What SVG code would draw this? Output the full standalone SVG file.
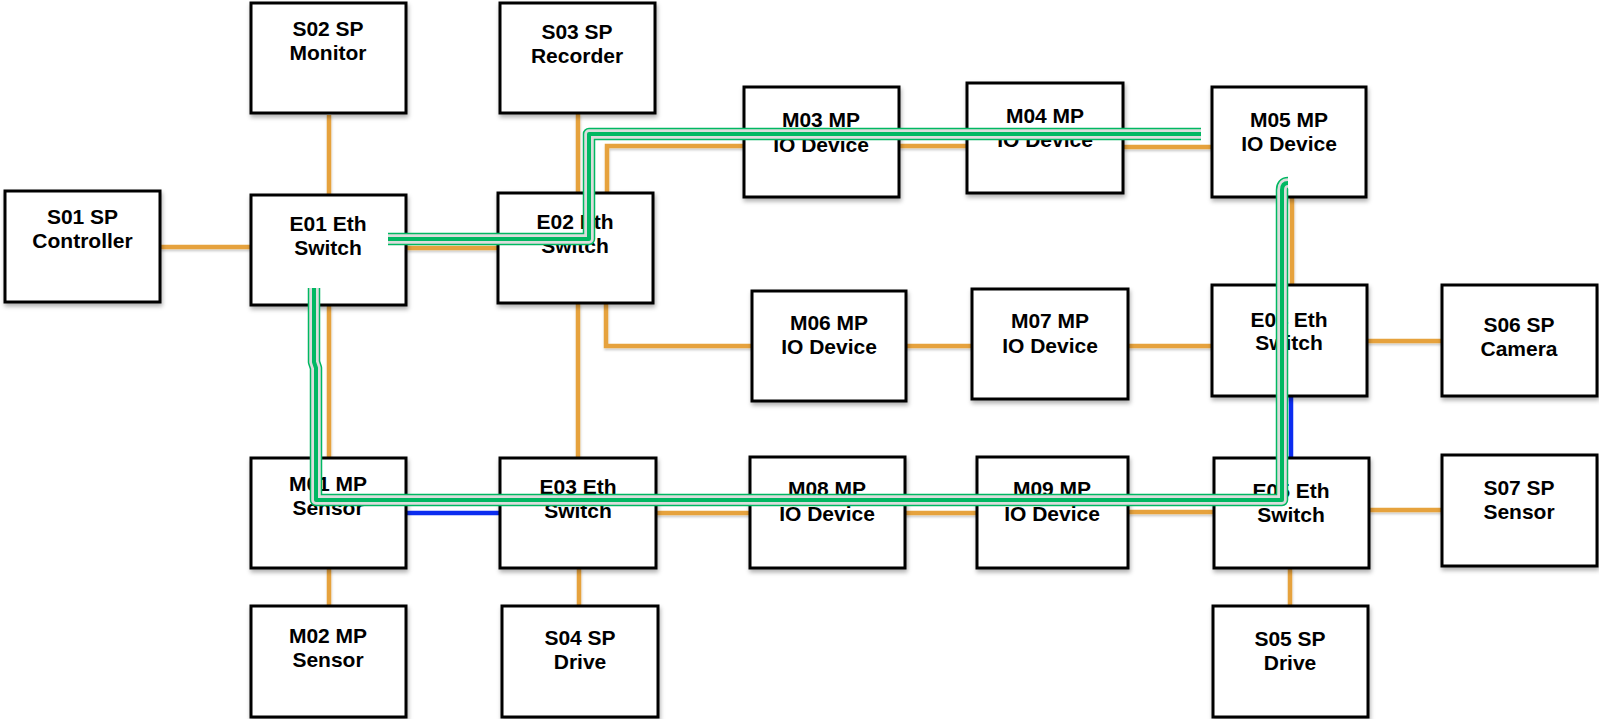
<svg xmlns="http://www.w3.org/2000/svg" xmlns:xlink="http://www.w3.org/1999/xlink" width="1599" height="719" viewBox="0 0 1599 719">
<style>
.box{fill:#fff;stroke:#000;stroke-width:3;filter:url(#sh)}
.lbl{font-family:"Liberation Sans",Arial,Helvetica,sans-serif;font-weight:bold;font-size:21px;fill:#000;text-anchor:middle}
.or{fill:none;stroke:#e6a23c;stroke-width:4.5}
.bl{fill:none;stroke:#0b2cf0;stroke-width:4.5}
.g1{fill:none;stroke:#00b862;stroke-width:12.5;stroke-linejoin:round}
.g2{fill:none;stroke:#dcdcdc;stroke-width:9.5;stroke-linejoin:round}
.g3{fill:none;stroke:#00b862;stroke-width:4;stroke-linejoin:round}
</style>
<defs>
<filter id="sh" x="-10%" y="-10%" width="125%" height="130%">
<feDropShadow dx="1" dy="3" stdDeviation="2" flood-color="#000" flood-opacity="0.3"/>
</filter>
<filter id="lsh" x="-10%" y="-10%" width="120%" height="120%">
<feDropShadow dx="0.5" dy="2" stdDeviation="1.2" flood-color="#000" flood-opacity="0.2"/>
</filter>
<path id="gpA" d="M 388 239 H 589 V 134 H 1201"/>
<path id="gpB" d="M 1288 183 Q 1282 183 1282 190 V 500 H 316 V 368 L 314 362 V 288"/>
</defs>
<rect width="1599" height="719" fill="#fff"/>

<g id="connectors">
<g filter="url(#lsh)">
<path class="or" d="M 160 247 H 251"/>
<path class="or" d="M 329 115 V 195"/>
<path class="or" d="M 406 248 H 498"/>
<path class="or" d="M 578 114 V 193"/>
<path class="or" d="M 607 193 V 146 H 744"/>
<path class="or" d="M 899 146 H 967"/>
<path class="or" d="M 1123 147 H 1212"/>
<path class="or" d="M 1292 197 V 285"/>
<path class="or" d="M 606 303 V 346 H 752"/>
<path class="or" d="M 906 346 H 972"/>
<path class="or" d="M 1128 346 H 1212"/>
<path class="or" d="M 1367 341 H 1442"/>
<path class="or" d="M 578 303 V 458"/>
<path class="or" d="M 329 305 V 458"/>
<path class="or" d="M 656 513 H 750"/>
<path class="or" d="M 905 513 H 977"/>
<path class="or" d="M 1128 512 H 1214"/>
<path class="or" d="M 1369 510 H 1442"/>
<path class="or" d="M 1290 568 V 606"/>
<path class="or" d="M 579 568 V 606"/>
<path class="or" d="M 329 568 V 606"/>
</g>
<path class="bl" d="M 406 513 H 500"/>
<path class="bl" d="M 1291 396 V 458"/>
</g>

<g id="S01"><rect class="box" x="5" y="191" width="155" height="111"/><text class="lbl" x="82.5" y="224">S01 SP</text><text class="lbl" x="82.5" y="248">Controller</text></g>
<g id="S02"><rect class="box" x="251" y="3" width="155" height="110"/><text class="lbl" x="328" y="36">S02 SP</text><text class="lbl" x="328" y="60">Monitor</text></g>
<g id="E01"><rect class="box" x="251" y="195" width="155" height="110"/><text class="lbl" x="328" y="231">E01 Eth</text><text class="lbl" x="328" y="255">Switch</text></g>
<g id="S03"><rect class="box" x="500" y="3" width="155" height="110"/><text class="lbl" x="577" y="39">S03 SP</text><text class="lbl" x="577" y="63">Recorder</text></g>
<g id="E02"><rect class="box" x="498" y="193" width="155" height="110"/><text class="lbl" x="575" y="229">E02 Eth</text><text class="lbl" x="575" y="253">Switch</text></g>
<g id="M03"><rect class="box" x="744" y="87" width="155" height="110"/><text class="lbl" x="821" y="127">M03 MP</text><text class="lbl" x="821" y="152">IO Device</text></g>
<g id="M04"><rect class="box" x="967" y="83" width="156" height="110"/><text class="lbl" x="1045" y="123">M04 MP</text><text class="lbl" x="1045" y="147">IO Device</text></g>
<g id="M05"><rect class="box" x="1212" y="87" width="154" height="110"/><text class="lbl" x="1289" y="127">M05 MP</text><text class="lbl" x="1289" y="151">IO Device</text></g>
<g id="E04"><rect class="box" x="1212" y="285" width="155" height="111"/><text class="lbl" x="1289" y="327">E04 Eth</text><text class="lbl" x="1289" y="350">Switch</text></g>
<g id="S06"><rect class="box" x="1442" y="285" width="155" height="111"/><text class="lbl" x="1519" y="332">S06 SP</text><text class="lbl" x="1519" y="356">Camera</text></g>
<g id="M06"><rect class="box" x="752" y="291" width="154" height="110"/><text class="lbl" x="829" y="330">M06 MP</text><text class="lbl" x="829" y="354">IO Device</text></g>
<g id="M07"><rect class="box" x="972" y="289" width="156" height="110"/><text class="lbl" x="1050" y="328">M07 MP</text><text class="lbl" x="1050" y="353">IO Device</text></g>
<g id="M01"><rect class="box" x="251" y="458" width="155" height="110"/><text class="lbl" x="328" y="491">M01 MP</text><text class="lbl" x="328" y="515">Sensor</text></g>
<g id="E03"><rect class="box" x="500" y="458" width="156" height="110"/><text class="lbl" x="578" y="494">E03 Eth</text><text class="lbl" x="578" y="518">Switch</text></g>
<g id="M08"><rect class="box" x="750" y="457" width="155" height="111"/><text class="lbl" x="827" y="496">M08 MP</text><text class="lbl" x="827" y="521">IO Device</text></g>
<g id="M09"><rect class="box" x="977" y="457" width="151" height="111"/><text class="lbl" x="1052" y="496">M09 MP</text><text class="lbl" x="1052" y="521">IO Device</text></g>
<g id="E05"><rect class="box" x="1214" y="458" width="155" height="110"/><text class="lbl" x="1291" y="498">E05 Eth</text><text class="lbl" x="1291" y="522">Switch</text></g>
<g id="S07"><rect class="box" x="1442" y="455" width="155" height="111"/><text class="lbl" x="1519" y="495">S07 SP</text><text class="lbl" x="1519" y="519">Sensor</text></g>
<g id="M02"><rect class="box" x="251" y="606" width="155" height="111"/><text class="lbl" x="328" y="643">M02 MP</text><text class="lbl" x="328" y="667">Sensor</text></g>
<g id="S04"><rect class="box" x="502" y="606" width="156" height="111"/><text class="lbl" x="580" y="645">S04 SP</text><text class="lbl" x="580" y="669">Drive</text></g>
<g id="S05"><rect class="box" x="1213" y="606" width="155" height="111"/><text class="lbl" x="1290" y="646">S05 SP</text><text class="lbl" x="1290" y="670">Drive</text></g>

<g id="highlight-path">
<use xlink:href="#gpA" class="g1"/><use xlink:href="#gpA" class="g2"/><use xlink:href="#gpA" class="g3"/>
<use xlink:href="#gpB" class="g1"/><use xlink:href="#gpB" class="g2"/><use xlink:href="#gpB" class="g3"/>
</g>
</svg>
